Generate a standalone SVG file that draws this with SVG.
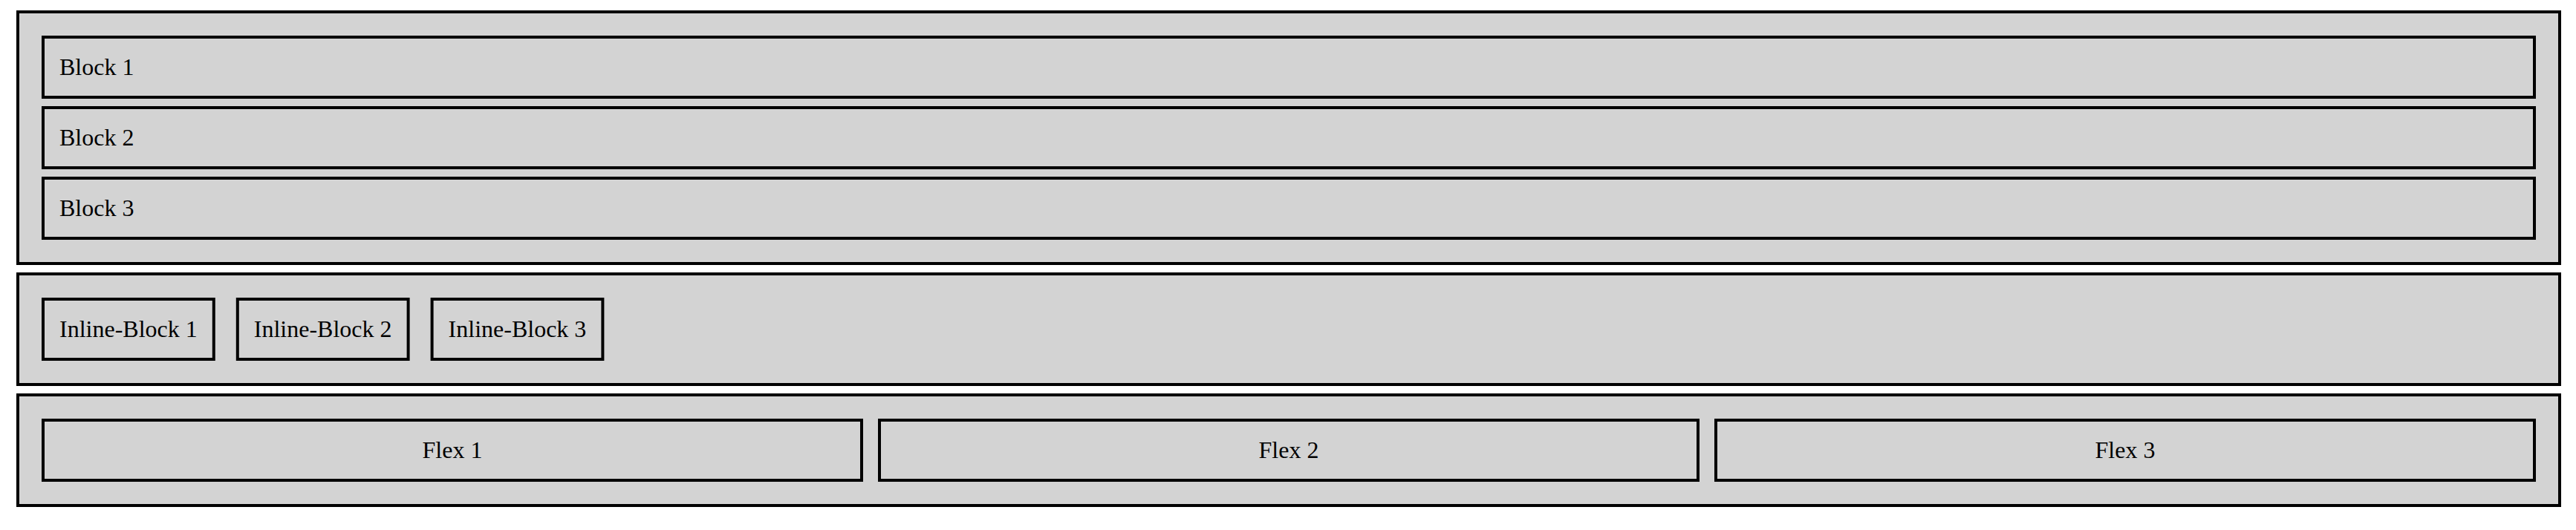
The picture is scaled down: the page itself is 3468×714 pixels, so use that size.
<svg xmlns="http://www.w3.org/2000/svg" width="3468" height="714" viewBox="0 0 3468 714">
<style>
rect { fill: #d3d3d3; stroke: #000000; stroke-width: 4; }
text { font-family: "Liberation Serif", "Times New Roman", serif; font-size: 32px; fill: #000000; }
.c { text-anchor: middle; }
</style>
<rect x="0" y="0" width="3468" height="714" style="fill:#ffffff;stroke:none"/>
<g id="block-container">
  <rect x="24" y="16" width="3422" height="339"/>
  <g id="block-1"><rect x="58" y="50" width="3354" height="81"/><text x="80" y="101">Block 1</text></g>
  <g id="block-2"><rect x="58" y="145" width="3354" height="81"/><text x="80" y="196">Block 2</text></g>
  <g id="block-3"><rect x="58" y="240" width="3354" height="81"/><text x="80" y="291">Block 3</text></g>
</g>
<g id="inline-container">
  <rect x="24" y="369" width="3422" height="149"/>
  <g id="inline-block-1"><rect x="58" y="403" width="229.8" height="81"/><text x="80" y="454">Inline-Block 1</text></g>
  <g id="inline-block-2"><rect x="319.8" y="403" width="229.8" height="81"/><text x="341.8" y="454">Inline-Block 2</text></g>
  <g id="inline-block-3"><rect x="581.6" y="403" width="229.8" height="81"/><text x="603.6" y="454">Inline-Block 3</text></g>
</g>
<g id="flex-container">
  <rect x="24" y="532" width="3422" height="149"/>
  <g id="flex-1"><rect x="58" y="566" width="1102" height="81"/><text class="c" x="609" y="617">Flex 1</text></g>
  <g id="flex-2"><rect x="1184" y="566" width="1102" height="81"/><text class="c" x="1735" y="617">Flex 2</text></g>
  <g id="flex-3"><rect x="2310" y="566" width="1102" height="81"/><text class="c" x="2861" y="617">Flex 3</text></g>
</g>
</svg>
